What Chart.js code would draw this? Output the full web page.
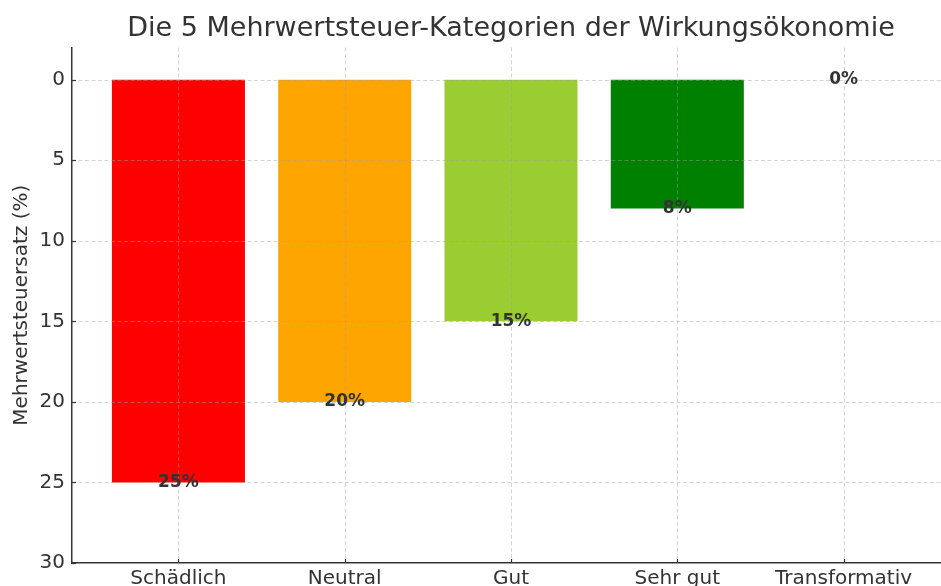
<!DOCTYPE html>
<html>
<head>
<meta charset="utf-8">
<script src="https://cdn.jsdelivr.net/npm/chart.js@4"></script>
<style>
  html, body { margin: 0; padding: 0; overflow: hidden; background: #fff; }
  #wrap { width: 950px; height: 610px; }
</style>
</head>
<body>
<div id="wrap"><canvas id="vatChart" width="950" height="610"></canvas></div>
<script>
const categories = ["Schädlich", "Neutral", "Gut", "Sehr gut", "Transformativ"];
const rates = [25, 20, 15, 8, 0];
const barColors = ["#ff0000", "#ffa500", "#9acd32", "#008000", "#1f77b4"];
const yTicks = [0, 5, 10, 15, 20, 25, 30];

const textColor = "#333333";
const fontFamily = "'DejaVu Sans', sans-serif";

// grid lines sit on top of the bars, like in the original
const overlay = {
  id: "overlay",
  afterDatasetsDraw(chart) {
    const { ctx, chartArea: area, scales: { x, y } } = chart;
    ctx.save();
    ctx.strokeStyle = "rgba(160, 160, 160, 0.45)";
    ctx.lineWidth = 1;
    ctx.setLineDash([4, 2.5]);
    yTicks.forEach((v) => {
      const py = Math.round(y.getPixelForValue(v)) + 0.5;
      ctx.beginPath();
      ctx.moveTo(area.left, py);
      ctx.lineTo(area.right, py);
      ctx.stroke();
    });
    categories.forEach((c, i) => {
      const px = Math.round(x.getPixelForValue(i)) + 0.5;
      ctx.beginPath();
      ctx.moveTo(px, area.top);
      ctx.lineTo(px, area.bottom);
      ctx.stroke();
    });

    // short inward tick marks
    ctx.setLineDash([]);
    ctx.strokeStyle = textColor;
    ctx.lineWidth = 1.2;
    yTicks.forEach((v) => {
      const py = Math.round(y.getPixelForValue(v)) + 0.5;
      ctx.beginPath();
      ctx.moveTo(area.left, py);
      ctx.lineTo(area.left + 4, py);
      ctx.stroke();
    });
    categories.forEach((c, i) => {
      const px = Math.round(x.getPixelForValue(i)) + 0.5;
      ctx.beginPath();
      ctx.moveTo(px, area.bottom);
      ctx.lineTo(px, area.bottom - 4);
      ctx.stroke();
    });

    // value labels at the end of each bar
    ctx.fillStyle = textColor;
    ctx.font = "bold 17px " + fontFamily;
    ctx.textAlign = "center";
    ctx.textBaseline = "middle";
    chart.getDatasetMeta(0).data.forEach((bar, i) => {
      ctx.fillText(rates[i] + "%", bar.x, bar.y);
    });
    ctx.restore();
  },
};

new Chart(document.getElementById("vatChart"), {
  type: "bar",
  data: {
    datasets: [
      {
        data: rates.map((v, i) => ({ x: i, y: v })),
        backgroundColor: barColors,
        borderWidth: 0,
        barPercentage: 0.8,
        categoryPercentage: 1,
      },
    ],
  },
  options: {
    responsive: false,
    animation: false,
    devicePixelRatio: 1,
    layout: { padding: 0 },
    plugins: {
      legend: { display: false },
      tooltip: { enabled: false },
      title: {
        display: true,
        fullSize: false,
        text: "Die 5 Mehrwertsteuer-Kategorien der Wirkungsökonomie",
        color: textColor,
        font: { family: fontFamily, size: 27, weight: "normal" },
        padding: { top: 13, bottom: 2 },
      },
    },
    scales: {
      x: {
        type: "linear",
        offset: false,
        min: -0.64,
        max: 4.64,
        afterBuildTicks: (scale) => {
          scale.ticks = categories.map((c, i) => ({ value: i }));
        },
        afterFit: (scale) => {
          scale.height = 47;
        },
        ticks: {
          callback: (v) => categories[v],
          color: textColor,
          font: { family: fontFamily, size: 20 },
          padding: 4,
          maxRotation: 0,
          autoSkip: false,
        },
        grid: { display: false, drawTicks: false, offset: false },
        border: { display: true, color: textColor, width: 1.5 },
      },
      y: {
        reverse: true,
        min: -2,
        max: 30,
        afterBuildTicks: (scale) => {
          scale.ticks = yTicks.map((v) => ({ value: v }));
        },
        afterFit: (scale) => {
          scale.width = 72;
        },
        ticks: {
          color: textColor,
          font: { family: fontFamily, size: 20 },
          padding: 7,
        },
        title: {
          display: true,
          text: "Mehrwertsteuersatz (%)",
          color: textColor,
          font: { family: fontFamily, size: 20 },
          padding: { top: 10, bottom: 0 },
        },
        grid: { display: false, drawTicks: false },
        border: { display: true, color: textColor, width: 1.5 },
      },
    },
  },
  plugins: [overlay],
});
</script>
</body>
</html>
